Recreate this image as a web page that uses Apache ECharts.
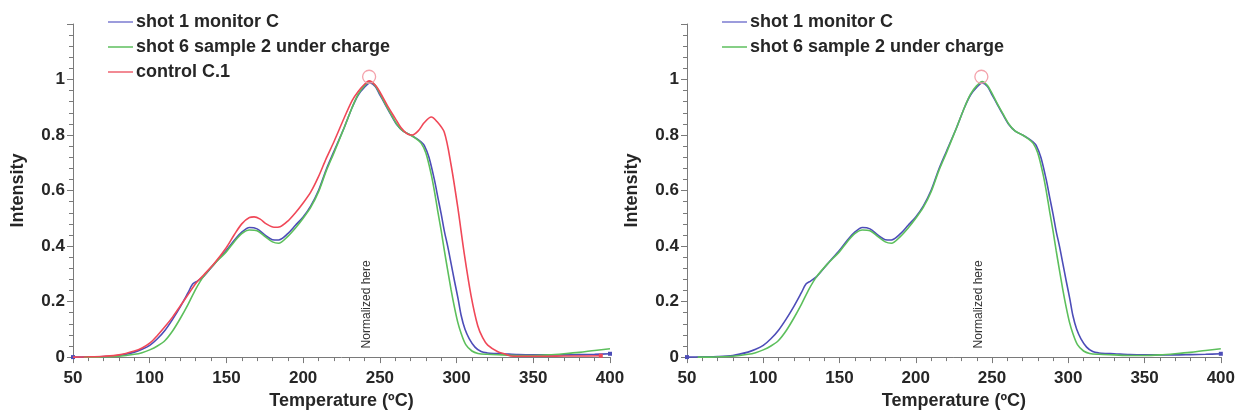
<!DOCTYPE html>
<html>
<head>
<meta charset="utf-8">
<script src="https://cdn.jsdelivr.net/npm/echarts@6/dist/echarts.min.js"></script>
<style>
html,body{margin:0;padding:0;background:#fff;}
#chart{width:1238px;height:415px;}
</style>
</head>
<body>
<div id="chart"></div>
<script>
// ---- Data ----
const xTickLabels = ['50','100','150','200','250','300','350','400'];
const yTickLabels = ['0','0.2','0.4','0.6','0.8','1'];

const seriesNames = ['shot 1 monitor C', 'shot 6 sample 2 under charge', 'control C.1'];

// shot 1 monitor C (temperature, intensity)
const tempBlue = [50,60,70,80,90,95,100,105,110,115,120,125,128,131,135,142,150,155,160,165,170,175,180,184,190,195,200,205,210,215,220,227,232,236,240,243.5,247,250,253,257,261,265,270,274,277,279,282,285.5,288,290,292,294.3,296.5,298.6,301,303,305.5,308.3,312,316,320,325,330,340,350,360,370,380,390,400];
const intBlue  = [0,0.001,0.002,0.006,0.018,0.028,0.042,0.066,0.097,0.137,0.182,0.232,0.263,0.274,0.29,0.335,0.385,0.42,0.45,0.467,0.462,0.44,0.423,0.422,0.445,0.475,0.505,0.545,0.6,0.675,0.74,0.83,0.9,0.945,0.972,0.988,0.975,0.945,0.915,0.875,0.838,0.815,0.8,0.787,0.775,0.762,0.72,0.64,0.57,0.515,0.455,0.397,0.335,0.275,0.21,0.15,0.1,0.066,0.036,0.02,0.015,0.013,0.012,0.009,0.008,0.008,0.008,0.009,0.01,0.012];

// shot 6 sample 2 under charge
const tempGreen = [57,65,70,80,90,95,100,105,110,115,120,125,130,135,142,150,155,160,165,170,175,180,184,190,195,200,205,210,215,220,227,232,236,240,243.5,247,250,253,257,261,265,270,274,277,280,283.4,285.5,287.7,290,292,294,296.4,298.6,300.8,303,306,310,314,320,330,340,350,360,370,380,390,400];
const intGreen  = [0,0,0.001,0.003,0.01,0.016,0.026,0.04,0.06,0.095,0.14,0.19,0.245,0.29,0.335,0.38,0.415,0.445,0.458,0.455,0.435,0.415,0.41,0.435,0.465,0.5,0.54,0.595,0.67,0.735,0.83,0.9,0.948,0.978,0.993,0.978,0.95,0.918,0.878,0.84,0.815,0.8,0.785,0.77,0.735,0.66,0.6,0.527,0.455,0.385,0.32,0.243,0.18,0.125,0.085,0.045,0.022,0.013,0.01,0.008,0.006,0.006,0.008,0.012,0.017,0.024,0.03];

// control C.1
const tempRed = [50,60,70,80,90,95,100,105,110,115,120,125,130,135,142,150,155,160,165,168,172,176,181,185,190,195,200,205,210,215,220,227,232,236,240,243,247,250,255,260,264,268,271,275,279,283.5,287,292,296.4,300.8,305,309.5,313.8,317,320.3,326.9,331,337,350,360,370,380,394];
const intRed  = [0,0.001,0.003,0.008,0.022,0.033,0.05,0.078,0.11,0.145,0.185,0.225,0.265,0.295,0.337,0.395,0.44,0.48,0.503,0.505,0.497,0.48,0.468,0.47,0.49,0.52,0.555,0.595,0.65,0.715,0.775,0.865,0.925,0.958,0.983,0.995,0.98,0.955,0.905,0.86,0.825,0.803,0.8,0.815,0.845,0.865,0.85,0.81,0.693,0.539,0.373,0.22,0.113,0.07,0.043,0.019,0.012,0.003,0.003,0.003,0.004,0.004,0.005];

// annotations (data coordinates)
const normPoint = [243, 1.01];
const normTextPoint = [241.5, 0.19];
const normText = 'Normalized here';

// ---- Build ----
const colors = ['#4d4db8', '#5cbf5c', '#f04858'];
const legendColors = ['#9c9cdc', '#86cf86', '#f28a94'];
const textColor = '#262626';
const axisColor = '#7a7a7a';

function pairs(ts, vs, endMarks) {
  return ts.map((t, i) => {
    const item = { value: [t, vs[i]] };
    if (endMarks && endMarks.indexOf(i) >= 0) { item.symbol = 'rect'; item.symbolSize = 4; }
    return item;
  });
}

function xAxis(gi) {
  return {
    type: 'value', gridIndex: gi, min: 50, max: 400, interval: 50,
    name: 'Temperature (ºC)', nameLocation: 'middle', nameGap: 33,
    nameTextStyle: { color: textColor, fontSize: 18, fontWeight: 'bold', fontFamily: 'Liberation Sans' },
    axisLine: { show: true, onZero: false, lineStyle: { color: axisColor, width: 1 } },
    axisTick: { show: true, length: 6, lineStyle: { color: axisColor } },
    minorTick: { show: true, splitNumber: 5, length: 4, lineStyle: { color: axisColor } },
    splitLine: { show: false },
    axisLabel: { color: textColor, fontSize: 17, fontWeight: 'bold', fontFamily: 'Liberation Sans', margin: 13,
      formatter: v => xTickLabels[Math.round((v - 50) / 50)] || '' }
  };
}
function yAxis(gi) {
  return {
    type: 'value', gridIndex: gi, min: 0, max: 1.2, interval: 0.2,
    name: 'Intensity', nameLocation: 'middle', nameGap: 46,
    nameTextStyle: { color: textColor, fontSize: 18, fontWeight: 'bold', fontFamily: 'Liberation Sans' },
    axisLine: { show: true, onZero: false, lineStyle: { color: axisColor, width: 1 } },
    axisTick: { show: true, length: 6, lineStyle: { color: axisColor } },
    minorTick: { show: true, splitNumber: 5, length: 4, lineStyle: { color: axisColor } },
    splitLine: { show: false },
    axisLabel: { color: textColor, fontSize: 17, fontWeight: 'bold', fontFamily: 'Liberation Sans', margin: 8,
      formatter: v => yTickLabels[Math.round(v / 0.2)] || '' }
  };
}

function lineSeries(idx, gi, ts, vs, endMarks, withMarks) {
  const s = {
    type: 'line', name: seriesNames[idx], xAxisIndex: gi, yAxisIndex: gi,
    data: pairs(ts, vs, endMarks), smooth: 0.3, symbol: 'none', showSymbol: true,
    lineStyle: { color: colors[idx], width: 1.6 }, itemStyle: { color: colors[idx] },
    emphasis: { disabled: true }, animation: false, z: 2 + idx
  };
  if (withMarks) {
    s.markPoint = {
      silent: true, animation: false,
      data: [
        { coord: normPoint, symbol: 'circle', symbolSize: 13,
          itemStyle: { color: 'rgba(0,0,0,0)', borderColor: '#f4a3ac', borderWidth: 1.3 },
          label: { show: false } },
        { coord: normTextPoint, symbol: 'circle', symbolSize: 1, itemStyle: { color: 'rgba(0,0,0,0)' },
          label: { show: true, position: 'inside', rotate: 90, formatter: normText,
            color: '#333', fontSize: 12, fontFamily: 'Liberation Sans' } }
      ]
    };
  }
  return s;
}

function legend(left, names) {
  return {
    orient: 'vertical', left: left, top: 8, itemWidth: 25, itemHeight: 2, itemGap: 7,
    icon: 'rect', selectedMode: false,
    textStyle: { color: textColor, fontSize: 18, fontWeight: 'bold', fontFamily: 'Liberation Sans', padding: [0,0,0,-2] },
    data: names.map(n => ({ name: n, itemStyle: { color: legendColors[seriesNames.indexOf(n)] } }))
  };
}

const chart = echarts.init(document.getElementById('chart'), null, { renderer: 'canvas' });
chart.setOption({
  animation: false,
  backgroundColor: '#ffffff',
  grid: [
    { left: 73, top: 24, width: 537, height: 339 },
    { left: 687, top: 24, width: 536, height: 339 }
  ],
  xAxis: [xAxis(0), xAxis(1)],
  yAxis: [yAxis(0), yAxis(1)],
  legend: [
    legend(103, [seriesNames[0], seriesNames[1], seriesNames[2]]),
    legend(717, [seriesNames[0], seriesNames[1]])
  ],
  series: [
    lineSeries(1, 0, tempGreen, intGreen, null, false),
    lineSeries(0, 0, tempBlue, intBlue, [0, tempBlue.length - 1], true),
    lineSeries(2, 0, tempRed, intRed, [tempRed.length - 1], false),
    lineSeries(1, 1, tempGreen, intGreen, null, false),
    lineSeries(0, 1, tempBlue, intBlue, [0, tempBlue.length - 1], true)
  ]
});
</script>
</body>
</html>
